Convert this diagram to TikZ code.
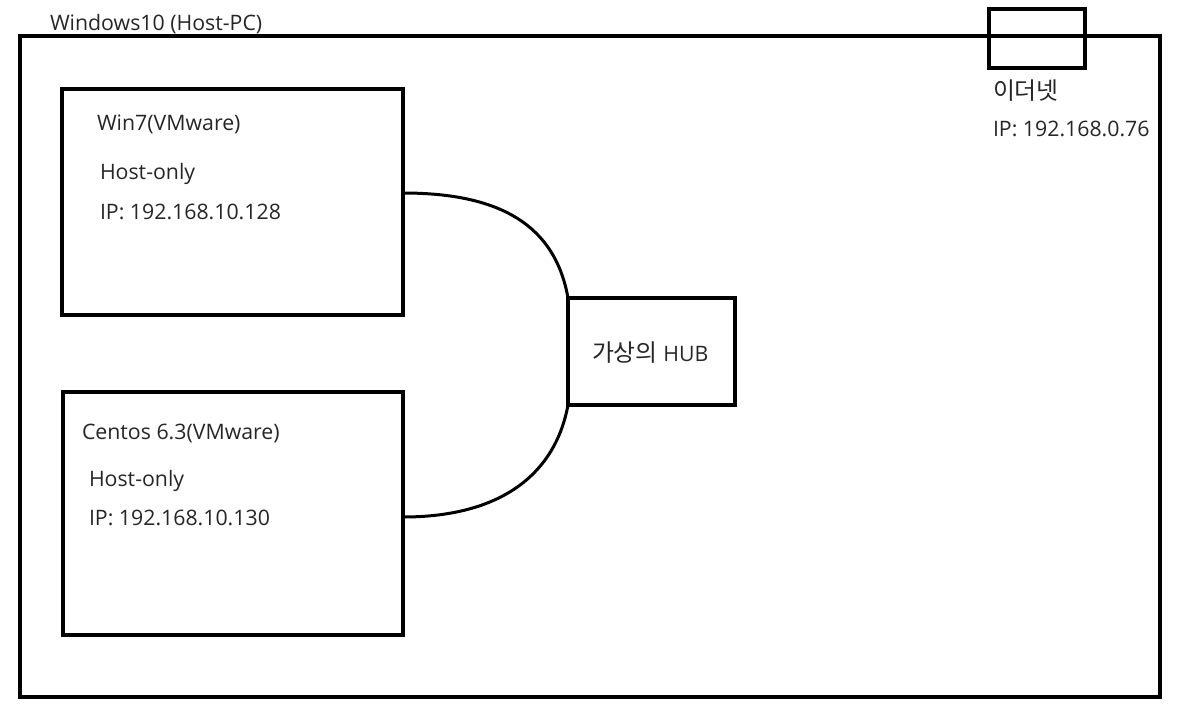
\documentclass[tikz,border=0pt]{standalone}
\usepackage{fontspec}
\setmainfont{Open Sans}
\newfontfamily\krfont[Scale=1.12]{Noto Sans CJK KR}
\begin{document}
\begin{tikzpicture}[x=1pt,y=-1pt,
  box/.style={draw=black,line width=3.4pt,rectangle,inner sep=0pt,outer sep=0pt},
  lbl/.style={anchor=base west,inner sep=0pt,outer sep=0pt,font=\fontsize{21.3}{25}\selectfont,text=black!85},
  wire/.style={draw=black,line width=3pt}]
\useasboundingbox (0,0) rectangle (1188,714);
% frames
\node[box,minimum width=1140pt,minimum height=661pt] (host) at (590,366.5) {};
\node[box,minimum width=96pt,minimum height=59pt] (eth) at (1037,38.5) {};
\node[box,minimum width=341pt,minimum height=226pt] (win7) at (232.5,202) {};
\node[box,minimum width=340pt,minimum height=243pt] (centos) at (233,513.5) {};
\node[box,minimum width=167pt,minimum height=107pt] (hub) at (651.5,351.5) {};
% labels
\node[lbl] (thost) at (50,31) {Windows10 (Host-PC)};
\node[lbl] (tw1) at (97,131) {Win7(VMware)};
\node[lbl] (tw2) at (100,180) {Host-only};
\node[lbl] (tw3) at (100,219) {IP: 192.168.10.128};
\node[lbl] (tc1) at (82,439) {Centos 6.3(VMware)};
\node[lbl] (tc2) at (89,486) {Host-only};
\node[lbl] (tc3) at (89,525) {IP: 192.168.10.130};
\node[lbl] (thub) at (592,361) {{\krfont 가상의} HUB};
\node[lbl] (te1) at (993,100) {\krfont 이더넷};
\node[lbl] (te2) at (993,137) {IP: 192.168.0.76};
% connectors
\coordinate (w7o) at ([yshift=9pt]win7.east);
\coordinate (ceo) at ([yshift=-3.5pt]centos.east);
\draw[wire] (w7o) .. controls (500,193) and (555,225) .. (hub.north west);
\draw[wire] (hub.south west) .. controls (555,475) and (500,517) .. (ceo);
\end{tikzpicture}
\end{document}
